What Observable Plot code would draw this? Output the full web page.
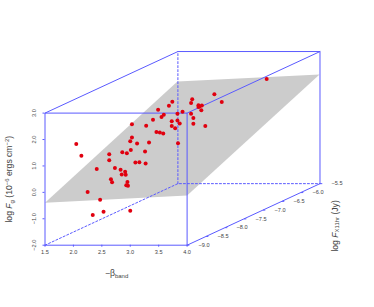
<!DOCTYPE html>
<html>
<head>
<meta charset="utf-8">
<script src="https://cdn.jsdelivr.net/npm/d3@7"></script>
<script src="https://cdn.jsdelivr.net/npm/@observablehq/plot@0.6"></script>
<style>html,body{margin:0;padding:0;background:#fff}svg{display:block}</style>
</head>
<body>
<div id="chart"></div>
<script>
// Projected positions of the points, in the units of the front face of the box
const beta = [2.05,2.14,2.25,2.34,2.47,2.53,3.00,2.41,2.63,2.63,2.66,2.68,2.73,2.83,2.85,2.91,2.92,2.95,2.93,2.96,2.86,2.94,3.01,3.00,3.03,3.03,3.12,3.09,3.16,3.27,3.26,3.33,3.28,3.40,3.49,3.46,3.52,3.58,3.59,3.55,3.68,3.74,3.73,3.73,3.79,3.83,3.83,3.87,3.84,3.92,4.07,4.11,4.11,4.32,4.09,4.07,4.20,4.20,4.26,4.25,4.48,4.61,5.40,4.22];
const fg = [1.83,1.39,0.01,-0.86,-0.28,-0.73,-0.70,0.88,1.44,1.22,0.50,0.38,0.92,0.86,0.68,0.78,0.67,0.39,0.27,0.25,1.52,1.48,1.60,1.93,2.08,2.58,1.85,1.13,1.14,1.09,1.55,1.89,2.52,2.75,3.13,2.28,2.27,2.23,2.94,2.85,3.28,3.43,2.69,2.51,2.43,2.98,2.72,2.61,1.86,3.05,2.98,2.81,2.60,2.51,3.52,3.38,3.30,3.23,3.29,3.11,3.71,3.42,4.29,3.25];

const planeBeta = [1.5,3.83,6.33,4.0];
const planeF = [-0.39,4.20,4.46,-0.12];

const betaTicks = [1.5,2.0,2.5,3.0,3.5,4.0];
const fTicks = [-2,-1,0,1,2,3];
const depthTicks = [-9.0,-8.5,-8.0,-7.5,-7.0,-6.5,-6.0,-5.5];
const depthBeta = [4.0,4.334,4.668,5.002,5.336,5.67,6.004,6.338];
const depthF = [-2,-1.668,-1.336,-1.004,-0.672,-0.34,-0.008,0.33];

// box edges: [beta, F] pairs
const solidEdges = [
  [[1.5,-2],[1.5,3],[4,3],[4,-2],[1.5,-2]],
  [[1.5,3],[3.838,5.33],[6.338,5.33],[6.338,0.33],[4,-2]],
  [[4,3],[6.338,5.33]]
];
const dashedEdges = [
  [[1.5,-2],[3.838,0.33],[6.338,0.33]],
  [[3.838,0.33],[3.838,5.33]]
];

const points = beta.map((b,i)=>({b,f:fg[i]}));
const plane = planeBeta.map((b,i)=>({b,f:planeF[i]}));
const depth = depthTicks.map((d,i)=>({d,b:depthBeta[i],f:depthF[i]}));
const blue = "#5a5aff", ink = "#444";
const fmtD = d3.format(".1f");

const edgeMarks = (edges,opts)=>edges.map(e=>Plot.line(e,{x:d=>d[0],y:d=>d[1],stroke:blue,strokeWidth:1,...opts}));

const plot = Plot.plot({
  width:374,height:307,
  marginLeft:44.5,marginRight:187.4,marginTop:112.6,marginBottom:62.3,
  x:{domain:[1.5,4]},y:{domain:[-2,3]},
  style:{fontFamily:"'Liberation Sans',Arial,sans-serif",background:"#fff",overflow:"visible"},
  marks:[
    Plot.line(plane.concat(plane[0]),{x:"b",y:"f",fill:"#cccccc",stroke:"none"}),
    ...edgeMarks(dashedEdges,{strokeDasharray:"2,2"}),
    ...edgeMarks(solidEdges,{}),
    Plot.axisX({ticks:betaTicks,tickSize:2,tickPadding:3,tickFormat:fmtD,fontSize:5.6,label:null,stroke:blue,color:ink}),
    Plot.axisY({ticks:fTicks,tickSize:2,tickPadding:7,tickRotate:-90,fontSize:5.6,label:null,stroke:blue,color:ink}),
    Plot.link(depth,{x1:"b",y1:"f",x2:d=>d.b+0.04,y2:"f",stroke:blue}),
    Plot.text(depth,{x:"b",y:"f",text:d=>fmtD(d.d).replace("-","\u2212"),dx:17,fontSize:5.6,fill:ink}),
    Plot.dot(points,{x:"b",y:"f",r:2,fill:"#e0000f",stroke:"none"}),
    Plot.text(["log F_g (10^-6 ergs cm^-2)"],{x:0.875,y:0.5,rotate:-90,fontSize:8.6,fill:ink,text:d=>d,className:"ylab"}),
    Plot.text(["-beta_band"],{x:2.76,y:-3.07,fontSize:8.6,fill:ink,text:d=>d,className:"xlab"}),
    Plot.text(["log F_X11hr (Jy)"],{x:6.6,y:-1.27,rotate:-90,fontSize:8.6,fill:ink,text:d=>d,className:"zlab"})
  ]
});
const rich = {
 ".ylab":'log <tspan font-style="italic">F</tspan><tspan font-size="6" dy="1.5">g</tspan><tspan dy="-1.5"> (10</tspan><tspan font-size="6" dy="-3">\u22126</tspan><tspan dy="3"> ergs cm</tspan><tspan font-size="6" dy="-3">\u22122</tspan><tspan dy="3">)</tspan>',
 ".xlab":'\u2212\u03B2<tspan font-size="6" dy="1.5">band</tspan>',
 ".zlab":'log <tspan font-style="italic">F</tspan><tspan font-size="6" dy="1.5">X11hr</tspan><tspan dy="-1.5"> (Jy)</tspan>'
};
for (const [sel,html] of Object.entries(rich)) {
  d3.select(plot).selectAll(sel+" text").html(html);
}
document.getElementById("chart").append(plot);
</script>
</body>
</html>
